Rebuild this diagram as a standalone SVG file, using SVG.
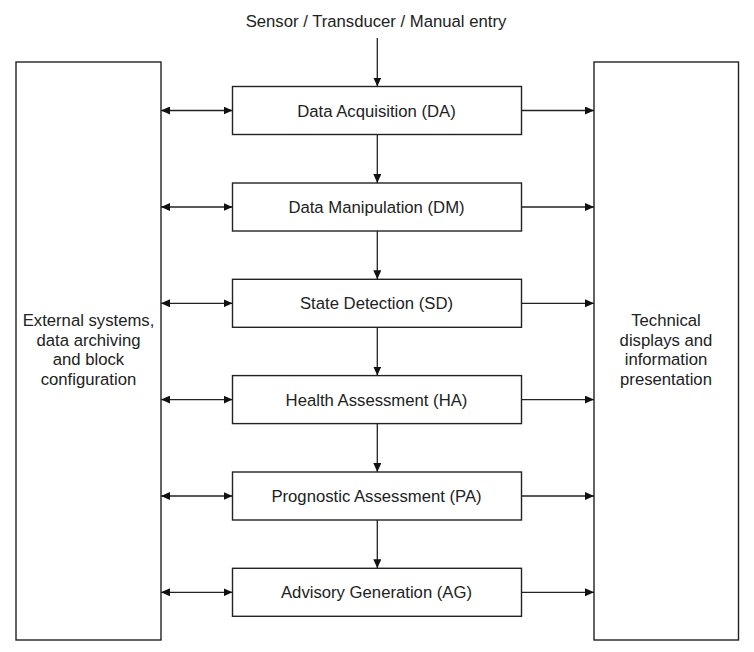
<svg xmlns="http://www.w3.org/2000/svg" width="754" height="652" viewBox="0 0 754 652">
<style>
.box{fill:#fff;stroke:#222;stroke-width:1.4}
.t{font-family:"Liberation Sans",Arial,sans-serif;font-size:16.7px;fill:#222;text-anchor:middle}
.c{stroke:#222;stroke-width:1.3;fill:none}
.e{marker-end:url(#ah)}
.b{marker-start:url(#as);marker-end:url(#ah)}
</style>
<defs>
<marker id="ah" markerUnits="userSpaceOnUse" markerWidth="10" markerHeight="8" refX="9" refY="4" orient="auto"><path d="M0,0 L9,4 L0,8 Z" fill="#111"/></marker>
<marker id="as" markerUnits="userSpaceOnUse" markerWidth="10" markerHeight="8" refX="0" refY="4" orient="auto"><path d="M9,0 L0,4 L9,8 Z" fill="#111"/></marker>
</defs>
<rect width="754" height="652" fill="#fff"/>
<text class="t" x="376" y="27">Sensor / Transducer / Manual entry</text>
<g id="left"><rect class="box" x="16" y="62" width="145" height="578"/>
<text class="t" x="88.5" y="326">External systems,</text>
<text class="t" x="88.5" y="345.5">data archiving</text>
<text class="t" x="88.5" y="365">and block</text>
<text class="t" x="88.5" y="384.5">configuration</text></g>
<g id="right"><rect class="box" x="594" y="62" width="144.5" height="578"/>
<text class="t" x="666" y="326">Technical</text>
<text class="t" x="666" y="345.5">displays and</text>
<text class="t" x="666" y="365">information</text>
<text class="t" x="666" y="384.5">presentation</text></g>
<g id="DA"><rect class="box" x="232.5" y="86.5" width="289" height="48"/><text class="t" x="376.5" y="116.5">Data Acquisition (DA)</text></g>
<g id="DM"><rect class="box" x="232.5" y="183" width="289" height="48"/><text class="t" x="376.5" y="213">Data Manipulation (DM)</text></g>
<g id="SD"><rect class="box" x="232.5" y="279.3" width="289" height="48"/><text class="t" x="376.5" y="309.3">State Detection (SD)</text></g>
<g id="HA"><rect class="box" x="232.5" y="375.6" width="289" height="48"/><text class="t" x="376.5" y="405.6">Health Assessment (HA)</text></g>
<g id="PA"><rect class="box" x="232.5" y="472" width="289" height="48"/><text class="t" x="376.5" y="502">Prognostic Assessment (PA)</text></g>
<g id="AG"><rect class="box" x="232.5" y="568.3" width="289" height="48"/><text class="t" x="376.5" y="598.3">Advisory Generation (AG)</text></g>
<g id="connectors">
<path class="c e" d="M377.3,38 V86.5"/>
<path class="c e" d="M377.3,134.5 V183"/>
<path class="c e" d="M377.3,231 V279.3"/>
<path class="c e" d="M377.3,327.3 V375.6"/>
<path class="c e" d="M377.3,423.6 V472"/>
<path class="c e" d="M377.3,520 V568.3"/>
<path class="c b" d="M161,110.5 H232.5"/>
<path class="c b" d="M161,207 H232.5"/>
<path class="c b" d="M161,303.3 H232.5"/>
<path class="c b" d="M161,399.6 H232.5"/>
<path class="c b" d="M161,496 H232.5"/>
<path class="c b" d="M161,592.3 H232.5"/>
<path class="c e" d="M521.5,110.5 H594"/>
<path class="c e" d="M521.5,207 H594"/>
<path class="c e" d="M521.5,303.3 H594"/>
<path class="c e" d="M521.5,399.6 H594"/>
<path class="c e" d="M521.5,496 H594"/>
<path class="c e" d="M521.5,592.3 H594"/>
</g>
</svg>
